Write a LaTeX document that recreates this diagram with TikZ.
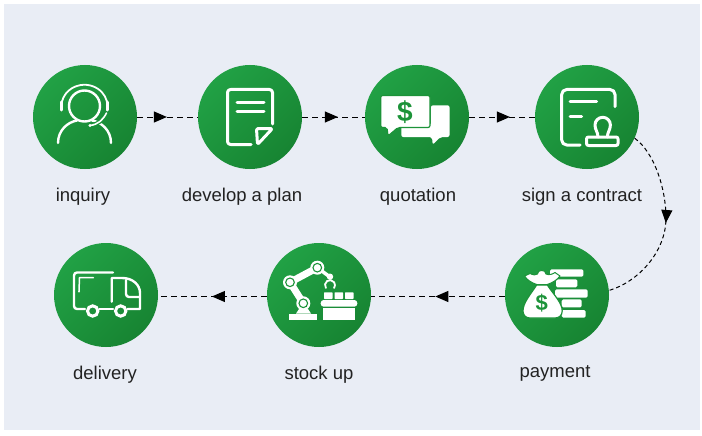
\documentclass[tikz,border=0pt]{standalone}
\usepackage{fontspec}
\setmainfont{Liberation Sans}
\usetikzlibrary{arrows.meta,decorations.markings}
\definecolor{panelbg}{HTML}{E9EDF5}
\definecolor{gA}{HTML}{21A145}
\definecolor{gB}{HTML}{178432}
\definecolor{gM}{HTML}{1C9339}
\definecolor{ink}{HTML}{222222}
\tikzset{
  stepdisc/.style={circle,minimum size=104pt,inner sep=0pt,top color=gA,bottom color=gB,shading angle=45},
  steplabel/.style={font=\fontsize{18.5}{20}\selectfont,text=ink,inner sep=0pt,anchor=base},
  flow/.style={line width=1pt,dash pattern=on 5.5pt off 4.5pt,black},
  curveflow/.style={line width=1pt,dash pattern=on 4pt off 3pt,black},
  midtip/.style={postaction={decorate},decoration={markings,mark=at position #1 with {\arrow{Triangle[length=13pt,width=11pt]}}}},
  lineicon/.style={draw=white,line width=3pt,line cap=round,line join=round},
  thinicon/.style={draw=white,line width=2.4pt,line cap=round,line join=round},
  bar/.style={fill=white,rounded corners=1.5pt},
  dollar/.style={text=gM,inner sep=0pt}
}
\begin{document}
\begin{tikzpicture}[x=1pt,y=-1pt]
\useasboundingbox (0,0) rectangle (702,436);
\fill[panelbg] (4,4) rectangle (700,430);

% discs
\node[stepdisc] (inq) at (85,117) {};
\node[stepdisc] (dev) at (250,117) {};
\node[stepdisc] (quo) at (417,117) {};
\node[stepdisc] (sig) at (587,117) {};
\node[stepdisc] (pay) at (557,295) {};
\node[stepdisc] (sto) at (319,295) {};
\node[stepdisc] (del) at (106,295) {};

% labels
\node[steplabel] (l1) at (83,201) {inquiry};
\node[steplabel] (l2) at (242,201) {develop a plan};
\node[steplabel] (l3) at (418,201) {quotation};
\node[steplabel] (l4) at (582,201) {sign a contract};
\node[steplabel] (l5) at (555,377) {payment};
\node[steplabel] (l6) at (319,379) {stock up};
\node[steplabel] (l7) at (105,379) {delivery};

% connectors
\draw[flow,midtip=.49] (inq.east) -- (dev.west);
\draw[flow,midtip=.57] (dev.east) -- (quo.west);
\draw[flow,midtip=.62] (quo.east) -- (sig.west);
\coordinate (bend) at (666,218);
\draw[curveflow,midtip=.5] (sig.-24) .. controls (655,153) and (666,190) .. (bend)
   .. controls (666,252) and (638,282) .. (pay.5);
\draw[flow,midtip=.52] ([yshift=-1.5pt]pay.west) -- ([yshift=-1.5pt]sto.east);
\draw[flow,midtip=.505] ([yshift=-1.5pt]sto.west) -- ([yshift=-1.5pt]del.east);

% headset person
\draw[thinicon] (84.5,106) circle (15.5);
\draw[thinicon,line width=1.8pt] (61.8,110) arc (170:370:23 and 21.5);
\draw[thinicon] (58,143) .. controls (58,130) and (68,122) .. (77,120.5);
\draw[thinicon] (111,143) .. controls (111,130) and (101,122) .. (92,120.5);
\draw[thinicon,line width=3pt] (61,102) -- (61,110);
\draw[thinicon,line width=3pt] (107.8,102) -- (107.8,110);
\draw[gM,line width=4pt] (92,125) .. controls (98,124) and (103,120) .. (106.5,115);
\draw[white,line width=1.6pt,line cap=round] (90,125.5) .. controls (98,124.5) and (103,120) .. (106.5,113);
\fill[white] (90,125.5) circle (1.7);

% document
\draw[lineicon,rounded corners=3pt] (272.5,124) -- (272.5,89.5) -- (227.5,89.5) -- (227.5,144.5) -- (251,144.5);
\draw[lineicon] (237,102.7) -- (264,102.7);
\draw[lineicon] (237,111.7) -- (264,111.7);
\draw[lineicon,rounded corners=1.5pt] (256.5,128.5) -- (272.5,128.5) -- (257.5,144.5) -- cycle;

% speech bubbles
\fill[white,rounded corners=2pt] (431,105.3) -- (449.5,105.3) -- (449.5,137) -- (440.5,137) -- (432.7,144.7) -- (432,137) -- (401.3,137) -- (401.3,125) -- (431,125) -- cycle;
\fill[white,draw=gM,line width=1.2pt,rounded corners=2pt] (380.7,95.5) -- (430,95.5) -- (430,127.5) -- (398,127.5) -- (388,136) -- (387,127.5) -- (380.7,127.5) -- cycle;
\node[dollar,font=\bfseries\fontsize{28}{28}\selectfont] (d1) at (405,112) {\$};

% contract
\draw[lineicon,rounded corners=5pt] (615,106.7) -- (615,89.5) -- (561.7,89.5) -- (561.7,145) -- (580,145);
\draw[lineicon] (570,101.7) -- (596.7,101.7);
\draw[lineicon] (570,116) -- (581.7,116);
\draw[lineicon,rounded corners=2pt] (586.5,137) rectangle (618,145.5);
\draw[lineicon] (598,137) .. controls (598,132) and (595,130) .. (595,125) arc (180:360:7.7) .. controls (610.4,130) and (607.4,132) .. (607.4,137);

% payment
\fill[bar] (550,269.3) rectangle (583.3,276.7);
\fill[bar] (556,279.3) rectangle (577.3,287.3);
\fill[bar] (555,289.3) rectangle (587.7,297.7);
\fill[bar] (561.7,299.3) rectangle (581.7,307.3);
\fill[bar] (561.7,310) rectangle (585.7,317.7);
\fill[white,draw=gM,line width=1.2pt] (536.7,285) .. controls (530,295) and (523,303) .. (523,311)
  .. controls (523,315.5) and (526,318) .. (530,318) -- (555,318)
  .. controls (559,318) and (562.2,315.5) .. (562.2,311)
  .. controls (562.2,303) and (554,295) .. (547.3,285) -- cycle;
\fill[white,draw=gM,line width=1pt,line join=round] (524.5,276) -- (530,273.5) .. controls (533,275) and (536,275.5) .. (537.5,274)
  .. controls (537,269.5) and (546,269) .. (546,274) .. controls (549,275.5) and (553,274) .. (555,272.5) -- (560,276)
  .. controls (557,280) and (553,282.5) .. (547.3,284.5) -- (536.7,284.5) .. controls (532,283) and (527,280) .. (524.5,276) -- cycle;
\node[dollar,font=\bfseries\fontsize{22}{22}\selectfont] (d2) at (541.7,303) {\$};

% robot
\fill[white] (289,313.5) rectangle (317.3,320);
\fill[white] (296,313.5) -- (299,309) -- (308,309) -- (311,313.5) -- cycle;
\draw[white,line width=7pt] (303.3,303.3) -- (290,282.3);
\draw[white,line width=7pt] (290,282.3) -- (317.3,267.7);
\draw[white,line width=3.5pt] (317.3,267.7) -- (330,277);
\foreach \px/\py in {303.3/303.3,290/282.3,317.3/267.7}{
  \fill[white] (\px,\py) circle (7);
  \draw[gM,line width=1.1pt] (\px,\py) circle (4.3);
}
\fill[white] (330,276.7) circle (3.2);
\draw[white,line width=1.8pt,line cap=round] (325.9,288) arc (145:395:5);
\foreach \bx in {324,334.5,345}{\fill[white,rounded corners=.6pt] (\bx,292.3) rectangle ++(8.5,6.7);}
\fill[white,rounded corners=3pt] (320.7,300) rectangle (357.3,306.7);
\fill[white] (323.3,307.7) rectangle (355,319.5);

% truck
\draw[thinicon,rounded corners=3pt] (113,272.5) -- (74,272.5) -- (74,309) -- (85,309);
\draw[thinicon] (99.5,309) -- (113,309);
\draw[thinicon] (127.5,309) -- (140,309) -- (140,293) .. controls (140,285) and (133,278) .. (122,278) -- (111.7,278) -- (111.7,301.7);
\draw[thinicon,rounded corners=3pt] (126,280) -- (126,297) -- (140,297);
\draw[thinicon,line width=1.5pt] (93.3,277.7) -- (79.5,277.7) -- (79,291);
\fill[white] (79,291.5) circle (1);
\draw[white,line width=3pt] (92.7,311) circle (5.2);
\draw[white,line width=3pt] (120.7,311) circle (5.2);
\end{tikzpicture}
\end{document}
